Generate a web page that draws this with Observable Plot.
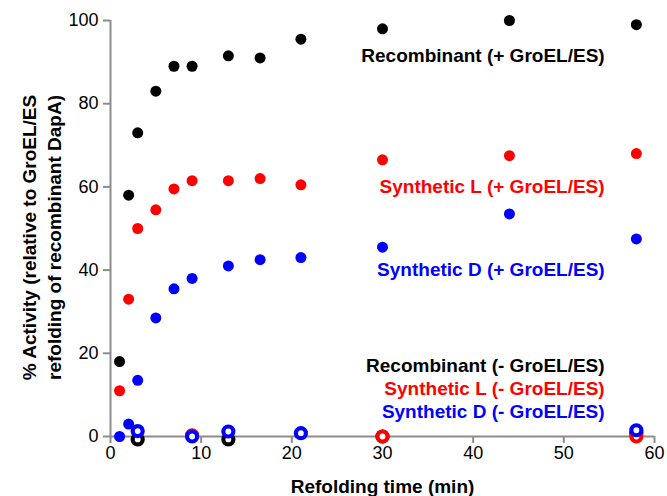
<!DOCTYPE html>
<html>
<head>
<meta charset="utf-8">
<script src="https://cdn.jsdelivr.net/npm/d3@7"></script>
<script src="https://cdn.jsdelivr.net/npm/@observablehq/plot@0.6"></script>
<style>
  html, body { margin: 0; padding: 0; background: white; }
  #chart { width: 667px; height: 496px; }
</style>
</head>
<body>
<div id="chart"></div>
<script>
// ---- Data ----
const times = [1, 2, 3, 5, 7, 9, 13, 16.5, 21, 30, 44, 58];
const recombinantPlus = [18, 58, 73, 83, 89, 89, 91.5, 91, 95.5, 98, 100, 99];
const syntheticLPlus  = [11, 33, 50, 54.5, 59.5, 61.5, 61.5, 62, 60.5, 66.5, 67.5, 68];
const syntheticDPlus  = [0, 3, 13.5, 28.5, 35.5, 38, 41, 42.5, 43, 45.5, 53.5, 47.5];

const recombinantMinusTimes = [3, 13, 30, 58];
const recombinantMinus      = [-0.7, -0.7, 0, 0.8];
const syntheticLMinusTimes  = [9, 30, 58];
const syntheticLMinus       = [0.3, 0, 0];
const syntheticDMinusTimes  = [3, 9, 13, 21, 58];
const syntheticDMinus       = [1.3, 0, 1.2, 0.8, 1.5];

const seriesNames = [
  "Recombinant (+ GroEL/ES)", "Synthetic L (+ GroEL/ES)", "Synthetic D (+ GroEL/ES)",
  "Recombinant (- GroEL/ES)", "Synthetic L (- GroEL/ES)", "Synthetic D (- GroEL/ES)"
];
const seriesColors = ["#000000", "#ff0000", "#0000ff", "#000000", "#ff0000", "#0000ff"];
// label anchor points (data units) for the in-plot labels
const labelX = [54.5, 54.5, 54.5, 54.5, 54.5, 54.5];
const labelY = [91.4, 60.1, 40.0, 16.9, 11.4, 5.85];

const xTicks = [0, 10, 20, 30, 40, 50, 60];
const yTicks = [0, 20, 40, 60, 80, 100];

const xTitle = "Refolding time (min)";
const yTitle = "% Activity (relative to GroEL/ES\nrefolding of recombinant DapA)";

// ---- Build tables ----
const toRows = (xs, ys) => xs.map((t, i) => ({t, v: ys[i]}));
const plusSeries = [
  {rows: toRows(times, recombinantPlus), color: seriesColors[0]},
  {rows: toRows(times, syntheticLPlus), color: seriesColors[1]},
  {rows: toRows(times, syntheticDPlus), color: seriesColors[2]}
];
const minusSeries = [
  {rows: toRows(recombinantMinusTimes, recombinantMinus), color: seriesColors[3]},
  {rows: toRows(syntheticLMinusTimes, syntheticLMinus), color: seriesColors[4]},
  {rows: toRows(syntheticDMinusTimes, syntheticDMinus), color: seriesColors[5]}
];
const labels = seriesNames.map((name, i) => ({name, x: labelX[i], y: labelY[i], color: seriesColors[i]}));

const axisGray = "#8c8c8c";
const font = "'Liberation Sans', Arial, Helvetica, sans-serif";

const chart = Plot.plot({
  width: 667,
  height: 496,
  marginLeft: 110,
  marginRight: 13,
  marginTop: 20,
  marginBottom: 60,
  x: {domain: [0, 60]},
  y: {domain: [0, 100]},
  style: {fontFamily: font, fontSize: "18px", background: "white", color: "black", overflow: "visible"},
  marks: [
    Plot.axisX({ticks: xTicks, tickSize: 7, tickPadding: 3, stroke: axisGray, strokeWidth: 2, fill: "black", fontSize: 18, label: null}),
    Plot.axisY({ticks: yTicks, tickSize: 7, tickPadding: 5, stroke: axisGray, strokeWidth: 2, fill: "black", fontSize: 18, label: null}),
    Plot.ruleY([0], {stroke: axisGray, strokeWidth: 2}),
    Plot.ruleX([0], {stroke: axisGray, strokeWidth: 2}),
    ...plusSeries.map(s => Plot.dot(s.rows, {x: "t", y: "v", r: 5.5, fill: s.color, stroke: "none"})),
    ...minusSeries.map(s => Plot.dot(s.rows, {x: "t", y: "v", r: 5, fill: "white", stroke: s.color, strokeWidth: 4.2, clip: false})),
    Plot.text(labels, {x: "x", y: "y", text: "name", fill: "color", textAnchor: "end", lineAnchor: "middle", fontSize: 19, fontWeight: "bold"}),
    Plot.text([xTitle], {frameAnchor: "bottom", dy: 50, textAnchor: "middle", lineAnchor: "middle", fontSize: 19, fontWeight: "bold", fill: "black"}),
    Plot.text([yTitle], {frameAnchor: "left", dx: -70, dy: 9, rotate: -90, textAnchor: "middle", lineAnchor: "middle", lineHeight: 1.3, fontSize: 19, fontWeight: "bold", fill: "black"})
  ]
});
document.getElementById("chart").appendChild(chart);
</script>
</body>
</html>
